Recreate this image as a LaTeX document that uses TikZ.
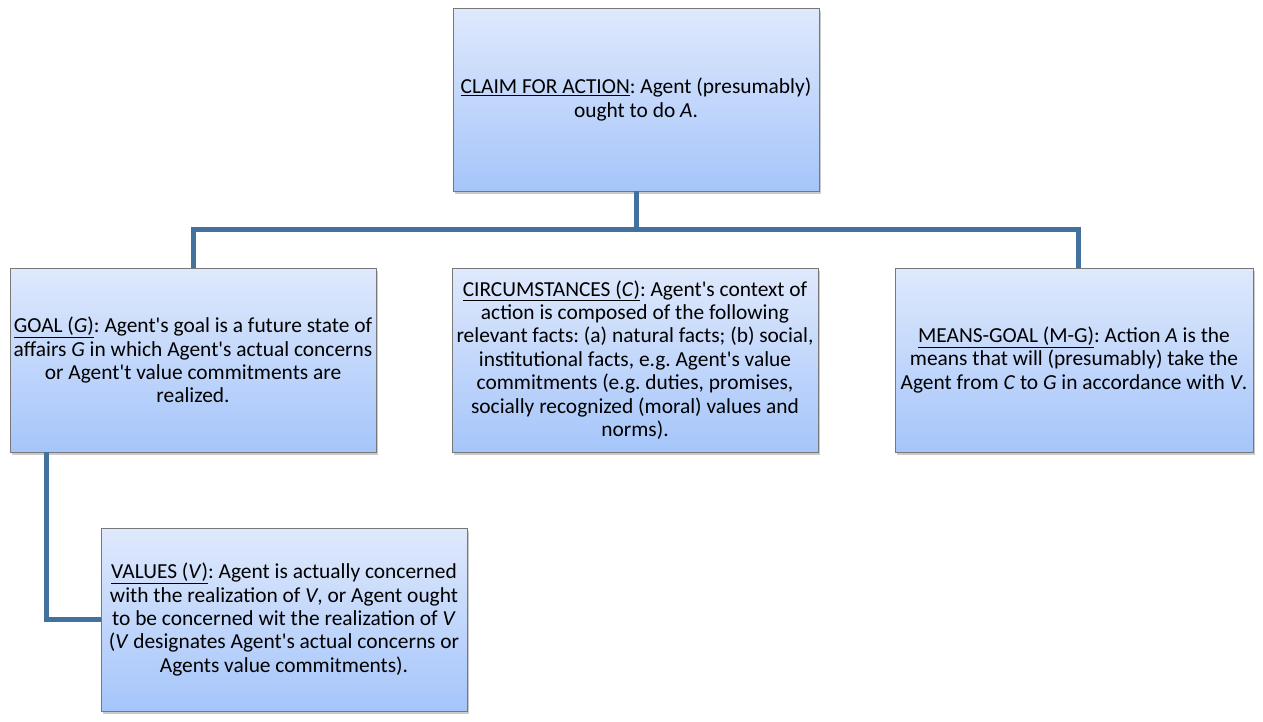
\documentclass[tikz,border=0pt]{standalone}
\usepackage{fontspec}
\setmainfont{Carlito}
\frenchspacing
\usetikzlibrary{shadows}
\definecolor{linecol}{RGB}{65,113,156}
\definecolor{boxtop}{RGB}{223,233,252}
\definecolor{boxbot}{RGB}{165,197,250}
\definecolor{boxedge}{RGB}{120,120,120}
\newcommand{\ap}{\textquotesingle}
\tikzset{
  box/.style={draw=boxedge, line width=0.9pt, top color=boxtop, bottom color=boxbot,
    minimum width=366pt, minimum height=184pt, align=center, inner sep=0pt,
    font=\fontsize{21.4}{23.4}\selectfont,
    drop shadow={shadow xshift=2pt, shadow yshift=-2.5pt, opacity=0.35, fill=black!60}},
  conn/.style={draw=linecol, line width=5pt}
}
\begin{document}
\begin{tikzpicture}[x=1pt,y=-1pt]
\useasboundingbox (0,0) rectangle (1263,721);
\node[box, minimum height=183pt] (claim) at (636,99.5)
  {\underline{CLAIM FOR ACTION}: Agent (presumably)\\ ought to do \textit{A}.};
\node[box] (goal) at (193,360)
  {\underline{GOAL (\textit{G})}: Agent\ap s goal is a future state of\\
   affairs \textit{G} in which Agent\ap s actual concerns\\
   or Agent\ap t value commitments are\\ realized.};
\node[box] (circ) at (635,360)
  {\underline{CIRCUMSTANCES (\textit{C})}: Agent\ap s context of\\
   action is composed of the following\\
   relevant facts: (a) natural facts; (b) social,\\
   institutional facts, e.g. Agent\ap s value\\
   commitments (e.g. duties, promises,\\
   socially recognized (moral) values and\\ norms).};
\node[box, minimum width=358pt] (means) at (1074,360)
  {\underline{MEANS-GOAL (M-G)}: Action \textit{A} is the\\
   means that will (presumably) take the\\
   Agent from \textit{C} to \textit{G} in accordance with \textit{V}.};
\node[box, minimum height=183pt] (values) at (284,619.5)
  {\underline{VALUES (\textit{V})}: Agent is actually concerned\\
   with the realization of \textit{V}, or Agent ought\\
   to be concerned wit the realization of \textit{V}\\
   (\textit{V} designates Agent\ap s actual concerns or\\
   Agents value commitments).};
\coordinate (bus) at (636,229);
\coordinate (meanstop) at ([xshift=4pt]means.north);
\coordinate (goaldrop) at ([xshift=-147pt]goal.south);
\draw[conn] (claim.south) -- (bus);
\draw[conn] (goal.north) |- (bus) -| (meanstop);
\draw[conn] (goaldrop) |- (values.west);
\end{tikzpicture}
\end{document}
